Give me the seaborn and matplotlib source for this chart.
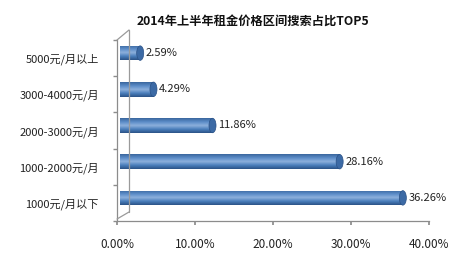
import numpy as np
import pandas as pd
import matplotlib
matplotlib.use("Agg")
import matplotlib.pyplot as plt
import matplotlib.transforms as mtransforms
from matplotlib.patches import Ellipse
from matplotlib.colors import LinearSegmentedColormap
import seaborn as sns

title = "2014年上半年租金价格区间搜索占比TOP5"
categories = ["5000元/月以上", "3000-4000元/月", "2000-3000元/月", "1000-2000元/月", "1000元/月以下"]
values = [2.59, 4.29, 11.86, 28.16, 36.26]
xticks = [0, 10, 20, 30, 40]
xticklabels = ["0.00%", "10.00%", "20.00%", "30.00%", "40.00%"]

sns.set_theme(style="white")
plt.rcParams["font.family"] = ["Noto Sans CJK SC", "DejaVu Sans"]

df = pd.DataFrame({"cat": categories, "val": values})

fig = plt.figure(figsize=(4.71, 2.61), dpi=100)
ax = fig.add_axes([117/471, 1-221/261, (429-117)/471, (221-40)/261])

sns.barplot(data=df, x="val", y="cat", orient="h", ax=ax, color="#4A7EBB",
            width=0.4, edgecolor="none", linewidth=0)

# 3D-look offsets
off = mtransforms.ScaledTranslation(3/100, 5/100, fig.dpi_scale_trans)
cmap = LinearSegmentedColormap.from_list("cyl", ["#2B5287", "#4A7EBB", "#8DB0DC", "#5B8CC8", "#3A669E"])
grad = np.linspace(0, 1, 64).reshape(-1, 1)
for p in list(ax.patches):
    p.set_transform(ax.transData + off)
    x0, y0 = p.get_x(), p.get_y()
    w, h = p.get_width(), p.get_height()
    im = ax.imshow(grad, cmap=cmap, aspect="auto", extent=(x0, x0 + w, y0, y0 + h),
                   transform=ax.transData + off, zorder=p.get_zorder() + 0.1, interpolation="bilinear")
    im.set_clip_path(p)
    cap = Ellipse((x0 + w, y0 + h / 2), width=0.9, height=h, facecolor="#3C6AA5",
                  edgecolor="#2B5287", linewidth=0.5, transform=ax.transData + off,
                  zorder=p.get_zorder() + 0.2)
    ax.add_patch(cap)
    ax.text(w + 0.7, y0 + h / 2, f"{w:.2f}%", va="center", ha="left", fontsize=8,
            color="#222222", transform=ax.transData + off)

ax.set_xlim(0, 40)
ax.set_ylim(4.5, -0.5)
ax.set_xticks(xticks)
ax.set_xticklabels(xticklabels, fontsize=8.5, color="#222222")
ax.set_yticks(range(len(categories)))
ax.set_yticklabels(categories, fontsize=8, color="#222222")
ax.set_xlabel("")
ax.set_ylabel("")

for s in ["top", "right"]:
    ax.spines[s].set_visible(False)
for s in ["left", "bottom"]:
    ax.spines[s].set_color("#8c8c8c")
    ax.spines[s].set_linewidth(0.9)

ax.tick_params(axis="y", length=0, pad=13)
ax.tick_params(axis="x", length=3, color="#8c8c8c", direction="out", bottom=True, pad=9)
ax.set_yticks([i - 0.5 for i in range(6)], minor=True)
ax.tick_params(axis="y", which="minor", length=3, color="#8c8c8c", left=True, direction="out")

# back wall lines
wall_kw = dict(color="#9a9a9a", linewidth=0.9, transform=fig.transFigure, clip_on=False)
def fx(px): return px / 471
def fy(py): return 1 - py / 261
fig.add_artist(plt.Line2D([fx(117), fx(129)], [fy(40), fy(30)], **wall_kw))
fig.add_artist(plt.Line2D([fx(129), fx(129)], [fy(30), fy(212)], **wall_kw))
fig.add_artist(plt.Line2D([fx(129), fx(117)], [fy(212), fy(219)], **wall_kw))

fig.text(253/471, 1 - 21/261, title, ha="center", va="center", fontsize=8.8,
         fontweight="bold", color="#111111")

fig.savefig("out.png", dpi=100)
